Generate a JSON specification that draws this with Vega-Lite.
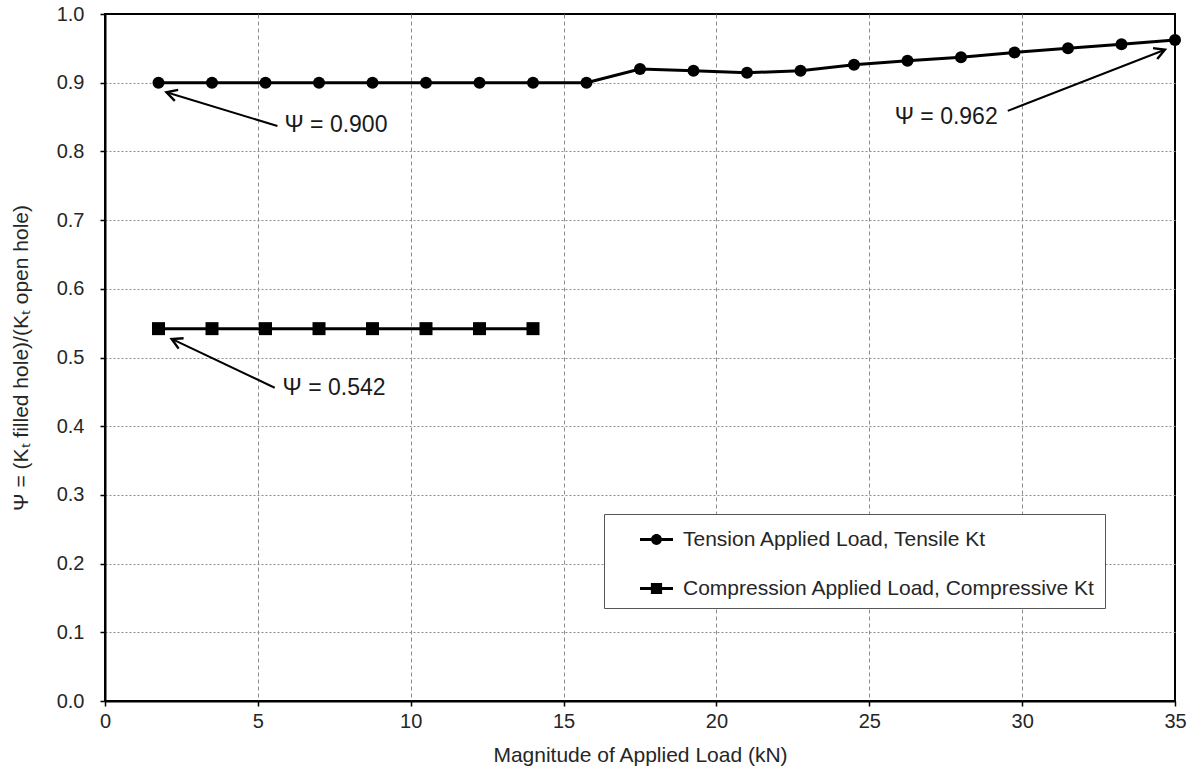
{
  "$schema": "https://vega.github.io/schema/vega-lite/v6.json",
  "width": 1070,
  "height": 687,
  "autosize": {"type": "none"},
  "padding": {"left": 105, "top": 14, "right": 22, "bottom": 75},
  "background": "white",
  "config": {
    "font": "Liberation Sans",
    "view": {"stroke": "black", "strokeWidth": 2},
    "axis": {
      "labelFont": "Liberation Sans",
      "labelFontSize": 20,
      "labelColor": "#262626",
      "titleFont": "Liberation Sans",
      "titleFontSize": 21,
      "titleFontWeight": "normal",
      "titleColor": "#262626",
      "domainColor": "black",
      "domainWidth": 2,
      "tickColor": "black",
      "tickWidth": 1.5,
      "tickSize": 5,
      "gridColor": "#8c8c8c",
      "gridWidth": 1
    }
  },
  "datasets": {
    "series": [
      {"series": "Tension Applied Load, Tensile Kt", "load": 1.75, "psi": 0.9},
      {"series": "Tension Applied Load, Tensile Kt", "load": 3.5, "psi": 0.9},
      {"series": "Tension Applied Load, Tensile Kt", "load": 5.25, "psi": 0.9},
      {"series": "Tension Applied Load, Tensile Kt", "load": 7.0, "psi": 0.9},
      {"series": "Tension Applied Load, Tensile Kt", "load": 8.75, "psi": 0.9},
      {"series": "Tension Applied Load, Tensile Kt", "load": 10.5, "psi": 0.9},
      {"series": "Tension Applied Load, Tensile Kt", "load": 12.25, "psi": 0.9},
      {"series": "Tension Applied Load, Tensile Kt", "load": 14.0, "psi": 0.9},
      {"series": "Tension Applied Load, Tensile Kt", "load": 15.75, "psi": 0.9},
      {"series": "Tension Applied Load, Tensile Kt", "load": 17.5, "psi": 0.92},
      {"series": "Tension Applied Load, Tensile Kt", "load": 19.25, "psi": 0.9175},
      {"series": "Tension Applied Load, Tensile Kt", "load": 21.0, "psi": 0.9145},
      {"series": "Tension Applied Load, Tensile Kt", "load": 22.75, "psi": 0.9175},
      {"series": "Tension Applied Load, Tensile Kt", "load": 24.5, "psi": 0.926},
      {"series": "Tension Applied Load, Tensile Kt", "load": 26.25, "psi": 0.932},
      {"series": "Tension Applied Load, Tensile Kt", "load": 28.0, "psi": 0.937},
      {"series": "Tension Applied Load, Tensile Kt", "load": 29.75, "psi": 0.944},
      {"series": "Tension Applied Load, Tensile Kt", "load": 31.5, "psi": 0.95},
      {"series": "Tension Applied Load, Tensile Kt", "load": 33.25, "psi": 0.956},
      {"series": "Tension Applied Load, Tensile Kt", "load": 35.0, "psi": 0.962},
      {"series": "Compression Applied Load, Compressive Kt", "load": 1.75, "psi": 0.542},
      {"series": "Compression Applied Load, Compressive Kt", "load": 3.5, "psi": 0.542},
      {"series": "Compression Applied Load, Compressive Kt", "load": 5.25, "psi": 0.542},
      {"series": "Compression Applied Load, Compressive Kt", "load": 7.0, "psi": 0.542},
      {"series": "Compression Applied Load, Compressive Kt", "load": 8.75, "psi": 0.542},
      {"series": "Compression Applied Load, Compressive Kt", "load": 10.5, "psi": 0.542},
      {"series": "Compression Applied Load, Compressive Kt", "load": 12.25, "psi": 0.542},
      {"series": "Compression Applied Load, Compressive Kt", "load": 14.0, "psi": 0.542}
    ],
    "arrows": [
      {"load": 2.01, "psi": 0.886, "load2": 5.64, "psi2": 0.837},
      {"load": 34.67, "psi": 0.948, "load2": 29.53, "psi2": 0.859},
      {"load": 2.18, "psi": 0.527, "load2": 5.55, "psi2": 0.456}
    ],
    "labels": [
      {"load": 5.87, "psi": 0.838, "text": "Ψ = 0.900"},
      {"load": 29.2, "psi": 0.85, "text": "Ψ = 0.962"},
      {"load": 5.81, "psi": 0.4556, "text": "Ψ = 0.542"}
    ]
  },
  "encoding": {
    "x": {
      "field": "load",
      "type": "quantitative",
      "scale": {"domain": [0, 35], "nice": false, "zero": false},
      "axis": {
        "title": "Magnitude of Applied Load (kN)",
        "values": [0, 5, 10, 15, 20, 25, 30, 35],
        "labelFlush": false,
        "labelPadding": 5,
        "titlePadding": 13,
        "gridDash": [4, 3],
        "gridOpacity": {"condition": {"test": "datum.value >= 35 || datum.value <= 0", "value": 0}, "value": 1}
      }
    },
    "y": {
      "field": "psi",
      "type": "quantitative",
      "scale": {"domain": [0, 1], "nice": false, "zero": false},
      "axis": {
        "title": "Ψ = (Kₜ filled hole)/(Kₜ open hole)",
        "values": [0, 0.1, 0.2, 0.3, 0.4, 0.5, 0.6, 0.7, 0.8, 0.9, 1.0],
        "format": ".1f",
        "labelFlush": false,
        "labelPadding": 16,
        "titlePadding": 25,
        "gridDash": [2, 2],
        "gridOpacity": {"condition": {"test": "datum.value >= 1 || datum.value <= 0", "value": 0}, "value": 1}
      }
    }
  },
  "layer": [
    {
      "data": {"name": "series"},
      "mark": {"type": "line", "color": "black", "strokeWidth": 3},
      "encoding": {"detail": {"field": "series"}}
    },
    {
      "data": {"name": "series"},
      "transform": [{"filter": "datum.series == 'Tension Applied Load, Tensile Kt'"}],
      "mark": {"type": "point", "shape": "circle", "filled": true, "color": "black", "opacity": 1, "size": 144}
    },
    {
      "data": {"name": "series"},
      "transform": [{"filter": "datum.series == 'Compression Applied Load, Compressive Kt'"}],
      "mark": {"type": "point", "shape": "square", "filled": true, "color": "black", "opacity": 1, "size": 169}
    },
    {
      "data": {"name": "series"},
      "mark": {"type": "point", "filled": true, "color": "black", "opacity": 0},
      "encoding": {
        "shape": {
          "field": "series",
          "type": "nominal",
          "scale": {
            "domain": ["Tension Applied Load, Tensile Kt", "Compression Applied Load, Compressive Kt"],
            "range": [
              "M-1,-0.09L1,-0.09L1,0.09L-1,0.09Z M0.33,0A0.33,0.33 0 1,1 -0.33,0A0.33,0.33 0 1,1 0.33,0Z",
              "M-1,-0.09L1,-0.09L1,0.09L-1,0.09Z M-0.34,-0.34L0.34,-0.34L0.34,0.34L-0.34,0.34Z"
            ]
          },
          "legend": {
            "title": null,
            "orient": "none",
            "legendX": 499,
            "legendY": 500,
            "padding": 9,
            "strokeColor": "#555",
            "fillColor": "white",
            "symbolSize": 1089,
            "symbolOpacity": 1,
            "symbolFillColor": "black",
            "symbolStrokeColor": "black",
            "symbolStrokeWidth": 0,
            "symbolOffset": 27,
            "labelOffset": 10,
            "labelFont": "Liberation Sans",
            "labelFontSize": 21,
            "labelColor": "#262626",
            "labelLimit": 700,
            "rowPadding": 22
          }
        }
      }
    },
    {
      "data": {"name": "arrows"},
      "mark": {"type": "rule", "color": "black", "strokeWidth": 2},
      "encoding": {
        "x2": {"field": "load2"},
        "y2": {"field": "psi2"}
      }
    },
    {
      "data": {"name": "arrows"},
      "mark": {
        "type": "point",
        "shape": "M-0.55,1L0,0L0.55,1",
        "filled": false,
        "color": "black",
        "opacity": 1,
        "strokeWidth": 2.4,
        "size": 440,
        "angle": {"expr": "atan2(scale('x', datum.load) - scale('x', datum.load2), scale('y', datum.psi2) - scale('y', datum.psi)) * 180 / PI"}
      }
    },
    {
      "data": {"name": "labels"},
      "transform": [{"filter": "datum.load < 20"}],
      "mark": {"type": "text", "align": "left", "baseline": "middle", "font": "Liberation Sans", "fontSize": 23, "color": "#1a1a1a"},
      "encoding": {"text": {"field": "text"}}
    },
    {
      "data": {"name": "labels"},
      "transform": [{"filter": "datum.load > 20"}],
      "mark": {"type": "text", "align": "right", "baseline": "middle", "font": "Liberation Sans", "fontSize": 23, "color": "#1a1a1a"},
      "encoding": {"text": {"field": "text"}}
    }
  ]
}
